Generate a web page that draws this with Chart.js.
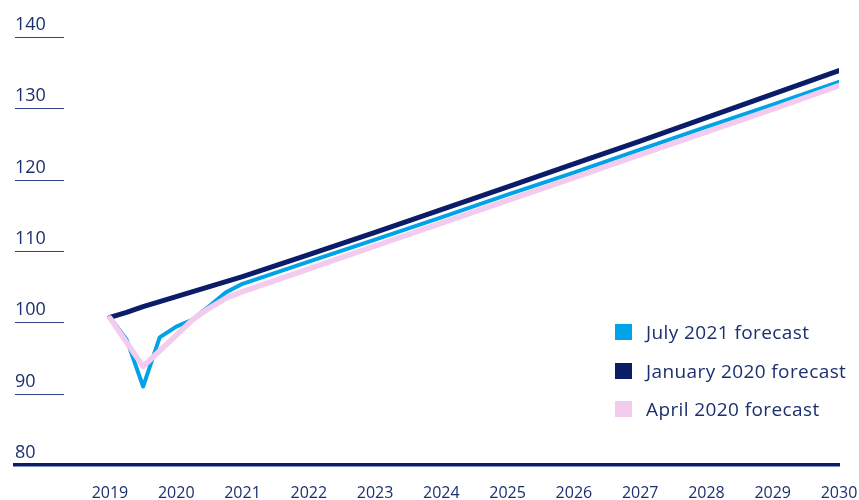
<!DOCTYPE html>
<html>
<head>
<meta charset="utf-8">
<script src="https://cdn.jsdelivr.net/npm/chart.js@4"></script>
<style>
  html, body { margin: 0; padding: 0; background: #fff; }
  #wrap { position: relative; width: 859px; height: 500px; }
  #legend { position: absolute; left: 615px; top: 313px; font-family: "Open Sans", sans-serif; font-size: 19px; letter-spacing: 0.4px; color: #1c2f6e; }
  #legend div { display: flex; align-items: center; height: 38.5px; }
  #legend span.box { width: 17px; height: 16px; margin-right: 14px; }
</style>
</head>
<body>
<div id="wrap">
  <canvas id="gdp"></canvas>
  <div id="legend"></div>
</div>
<script>
// quarterly through 2021, yearly after that
const periods = [2019, 2019.25, 2019.5, 2019.75, 2020, 2020.25, 2020.5, 2020.75, 2021,
  2022, 2023, 2024, 2025, 2026, 2027, 2028, 2029, 2030];
const july2021 = [100.7, 97.6, 91.0, 97.9, 99.4, 100.4, 102.3, 104.2, 105.4,
  108.5, 111.6, 114.7, 117.9, 121.0, 124.2, 127.4, 130.5, 133.7];
const january2020 = [100.7, 101.4, 102.2, 102.9, 103.6, 104.3, 105.0, 105.7, 106.4,
  109.5, 112.6, 115.8, 119.0, 122.2, 125.4, 128.7, 132.0, 135.3];
const april2020 = [100.6, 97.2, 93.8, 96.0, 98.2, 100.4, 102.0, 103.4, 104.3,
  107.5, 110.7, 113.9, 117.1, 120.3, 123.5, 126.7, 129.9, 133.2];
const yearTicks = [2019, 2020, 2021, 2022, 2023, 2024, 2025, 2026, 2027, 2028, 2029, 2030];
const yTicks = [80, 90, 100, 110, 120, 130, 140];

const NAVY = "#0b1c68";
const BLUE = "#00a3e6";
const PINK = "#f2cbee";
const TEXT = "#1c2f6e";

const series = [
  { label: "July 2021 forecast", values: july2021, color: BLUE, width: 4, order: 1 },
  { label: "January 2020 forecast", values: january2020, color: NAVY, width: 5, order: 2 },
  { label: "April 2020 forecast", values: april2020, color: PINK, width: 5.5, order: 0 },
];

// short rules under each y label
const tickRules = {
  id: "tickRules",
  beforeDatasetsDraw(chart) {
    const { ctx, scales: { y }, chartArea } = chart;
    ctx.save();
    ctx.strokeStyle = "#2f428a";
    ctx.lineWidth = 1.2;
    yTicks.forEach(v => {
      if (v === y.min) return;
      const py = Math.round(y.getPixelForValue(v)) + 0.5;
      ctx.beginPath();
      ctx.moveTo(chartArea.left, py);
      ctx.lineTo(chartArea.left + 49, py);
      ctx.stroke();
    });
    ctx.restore();
  }
};

new Chart(document.getElementById("gdp"), {
  type: "line",
  data: {
    datasets: series.map(s => ({
      label: s.label,
      data: periods.map((x, i) => ({ x: x, y: s.values[i] })),
      borderColor: s.color,
      backgroundColor: s.color,
      borderWidth: s.width,
      borderJoinStyle: "round",
      borderCapStyle: "round",
      pointRadius: 0,
      tension: 0,
      order: s.order,
    })),
  },
  options: {
    responsive: true,
    maintainAspectRatio: false,
    animation: false,
    layout: { padding: { left: 15, right: 20, top: 37, bottom: 0 } },
    plugins: { legend: { display: false }, tooltip: { enabled: false } },
    scales: {
      x: {
        type: "linear",
        min: 2017.567,
        max: 2030,
        afterBuildTicks: scale => { scale.ticks = yearTicks.map(v => ({ value: v })); },
        afterFit: scale => {
          scale.height = 35;
          scale.paddingLeft = 0;
          scale.paddingRight = 18;
        },
        grid: { display: false, drawTicks: false },
        border: { display: true, color: NAVY, width: 3.5 },
        ticks: {
          autoSkip: false,
          maxRotation: 0,
          padding: 19,
          color: TEXT,
          font: { family: "Open Sans", size: 16 },
          callback: v => String(v),
        },
      },
      y: {
        min: 80,
        max: 140,
        afterBuildTicks: scale => { scale.ticks = yTicks.map(v => ({ value: v })); },
        afterFit: scale => { scale.width = 0; },
        grid: { display: false, drawTicks: false },
        border: { display: false },
        ticks: {
          mirror: true,
          padding: 0,
          labelOffset: -12,
          color: TEXT,
          font: { family: "Open Sans", size: 18 },
        },
      },
    },
  },
  plugins: [tickRules],
});

const legend = document.getElementById("legend");
series.forEach(s => {
  const row = document.createElement("div");
  const box = document.createElement("span");
  box.className = "box";
  box.style.background = s.color;
  row.appendChild(box);
  row.appendChild(document.createTextNode(s.label));
  legend.appendChild(row);
});
</script>
</body>
</html>
